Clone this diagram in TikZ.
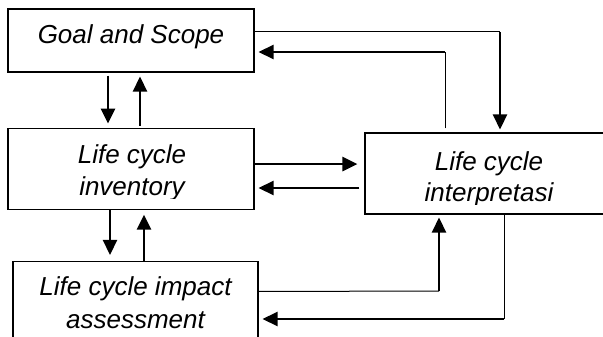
\documentclass[tikz,border=0pt]{standalone}
\usepackage{fontspec}
\setmainfont{Liberation Sans}
\usetikzlibrary{arrows.meta,positioning}

\begin{document}
\begin{tikzpicture}[
  x=1pt, y=-1pt,
  box/.style={draw,line width=1.1pt,inner sep=0pt,minimum width=246pt},
  lbl/.style={font=\fontsize{26}{32}\selectfont\itshape,inner sep=0pt,anchor=base},
  thinln/.style={line width=1pt},
  harr/.style={-{Triangle[length=15pt,width=14pt]},line width=2.6pt}
]
\clip (0,0) rectangle (603,337);
\node[box,minimum height=63pt] (goal) at (131,40.5) {};
\node[box,minimum height=81pt,below=55pt of goal] (lci) {};
\node[box,minimum width=245pt,minimum height=80pt] (lcia) at (135.5,301.5) {};
\node[box,minimum width=248pt,minimum height=81pt] (interp) at (489,173.5) {};

\node[lbl] (goaltxt) at (131,44) {Goal and Scope};
\begin{scope}
  \clip (lci.north west) rectangle ([yshift=11pt]lci.south east);
  \node[lbl] (lcitxta) at (132,163.5) {Life cycle};
  \node[lbl] (lcitxtb) at (132,195.5) {inventory};
\end{scope}
\begin{scope}
  \clip (interp.north west) rectangle ([yshift=10.5pt]interp.south east);
  \node[lbl] (intxta) at (489,170.5) {Life cycle};
  \node[lbl] (intxtb) at (489,201.5) {interpretasi};
\end{scope}
\begin{scope}
  \clip (lcia.north west) rectangle (lcia.east |- 0,332);
  \node[lbl] (lciatxta) at (135.5,295) {Life cycle impact};
  \node[lbl] (lciatxtb) at (135.5,328) {assessment};
\end{scope}

\coordinate (gdown) at ([xshift=-23pt]goal.south);
\coordinate (lup) at ([xshift=9pt]lci.north);
\draw[harr,shorten <=3pt,shorten >=4pt] (gdown) -- (gdown |- lci.north);
\draw[harr,shorten <=2pt,shorten >=4pt] (lup) -- (lup |- goal.south);

\coordinate (ldown) at ([xshift=-21pt]lci.south);
\coordinate (aup) at ([xshift=13pt]lci.south |- lcia.north);
\draw[harr,shorten >=6pt] (ldown) -- (ldown |- lcia.north);
\draw[harr,shorten >=5pt] (aup) -- (aup |- lci.south);

\coordinate (gout) at ([yshift=8.5pt]goal.east);
\coordinate (ctop) at (500,32);
\draw[thinln] (gout) -- (ctop);
\draw[harr,shorten >=3pt] (ctop) -- (ctop |- interp.north);
\coordinate (iup) at ([xshift=-44pt]interp.north);
\coordinate (cmid) at (445,52);
\draw[thinln] ([yshift=4pt]iup) -- (cmid);
\draw[harr,shorten >=4pt] (cmid) -- (cmid -| goal.east);

\coordinate (lout) at ([yshift=4.5pt]lci.east);
\coordinate (iout) at ([yshift=-14.5pt]interp.west);
\draw[harr,shorten >=7pt] (lout) -- (lout -| interp.west);
\draw[harr,shorten <=5pt,shorten >=4pt] (iout) -- (iout -| lci.east);

\coordinate (aout) at ([yshift=10pt]lcia.east);
\coordinate (cbota) at (439,291);
\draw[thinln] (aout) -- (cbota);
\draw[harr,shorten >=3pt] (cbota) -- (cbota |- interp.south);
\coordinate (idown) at ([xshift=15pt]interp.south);
\coordinate (cbotb) at (504,319);
\draw[thinln] (idown) -- (cbotb);
\draw[harr,shorten >=4pt] (cbotb) -- (cbotb -| lcia.east);
\end{tikzpicture}
\end{document}
